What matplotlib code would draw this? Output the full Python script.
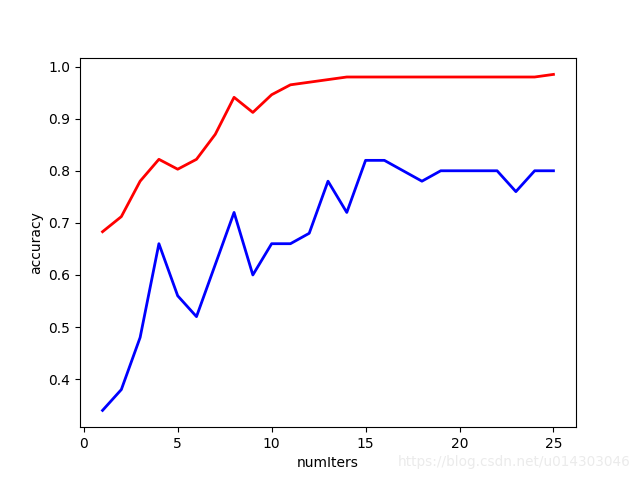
import matplotlib
matplotlib.use("Agg")
import matplotlib.pyplot as plt

num_iters = list(range(1, 26))
train_acc = [0.683, 0.712, 0.78, 0.822, 0.803, 0.822, 0.87, 0.941, 0.912, 0.946,
             0.965, 0.970, 0.975, 0.98, 0.98, 0.98, 0.98, 0.98, 0.98, 0.98,
             0.98, 0.98, 0.98, 0.98, 0.985]
test_acc = [0.34, 0.38, 0.48, 0.66, 0.56, 0.52, 0.62, 0.72, 0.60, 0.66,
            0.66, 0.68, 0.78, 0.72, 0.82, 0.82, 0.80, 0.78, 0.80, 0.80,
            0.80, 0.80, 0.76, 0.80, 0.80]

fig, ax = plt.subplots(figsize=(6.4, 4.8), dpi=100)
ax.plot(num_iters, train_acc, color='red', linewidth=2)
ax.plot(num_iters, test_acc, color='blue', linewidth=2)
ax.set_xlabel('numIters')
ax.set_ylabel('accuracy')

# watermark
fig.text(0.985, 0.037, 'https://blog.csdn.net/u014303046', ha='right', va='center',
         fontsize=9.8, color='#ebebeb')

plt.savefig('out.png')
